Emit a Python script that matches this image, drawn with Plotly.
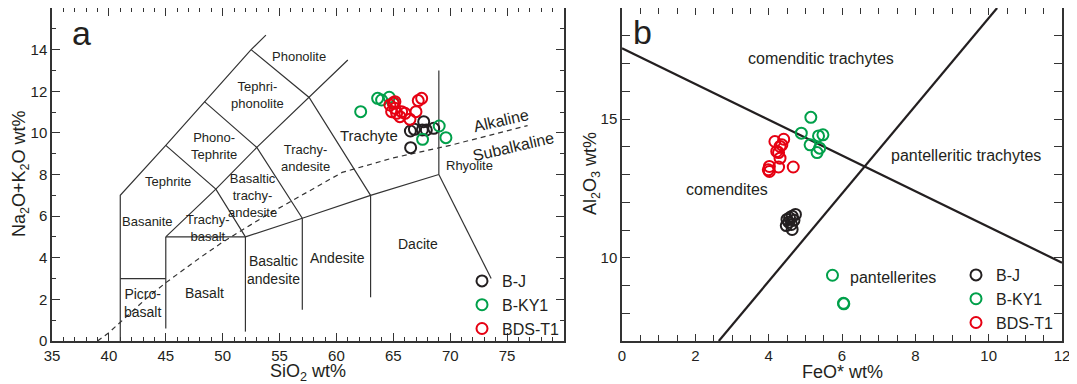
import plotly.graph_objects as go

# ---------------- Panel a (TAS) data ----------------
a_bj_sio2 = [66.50, 66.85, 67.67, 67.90, 68.55, 66.52, 67.55]
a_bj_alk = [10.09, 10.17, 10.54, 10.14, 10.22, 9.29, 10.14]
a_ky_sio2 = [62.13, 63.62, 63.97, 64.64, 65.00, 69.03, 69.62, 67.57]
a_ky_alk = [11.02, 11.66, 11.58, 11.71, 11.45, 10.33, 9.77, 9.69]
a_bds_sio2 = [65.00, 64.70, 65.14, 64.85, 65.29, 65.73, 66.02, 65.58, 66.46, 66.99, 67.19, 67.49, 65.14]
a_bds_alk = [11.42, 11.34, 11.18, 11.02, 10.94, 11.02, 10.94, 10.78, 10.65, 11.02, 11.55, 11.66, 11.50]

# ---------------- Panel b data ----------------
b_bj_feo = [4.50, 4.64, 4.73, 4.55, 4.69, 4.48, 4.62, 4.64, 4.57]
b_bj_al = [11.38, 11.50, 11.56, 11.28, 11.35, 11.16, 11.20, 11.02, 11.44]
b_ky_feo = [5.15, 4.89, 5.36, 5.48, 5.13, 5.39, 5.32, 5.74, 6.04, 6.05]
b_ky_al = [15.06, 14.49, 14.39, 14.43, 14.07, 13.95, 13.79, 9.37, 8.36, 8.34]
b_bds_feo = [4.17, 4.41, 4.31, 4.36, 4.22, 4.27, 4.31, 4.02, 3.99, 4.02, 4.27, 4.67]
b_bds_al = [14.19, 14.27, 14.01, 14.07, 13.83, 13.79, 13.59, 13.29, 13.17, 13.11, 13.27, 13.27]

series_names = ["B-J", "B-KY1", "BDS-T1"]
series_colors = ["#231f20", "#00a04a", "#e60012"]

# tick labels
a_x_ticks = [35, 40, 45, 50, 55, 60, 65, 70, 75]
a_y_ticks = [0, 2, 4, 6, 8, 10, 12, 14]
b_x_ticks = [0, 2, 4, 6, 8, 10, 12]
b_y_ticks = list(range(7, 20))
b_y_labels = ["" if v not in (10, 15) else str(v) for v in b_y_ticks]

# ---------------- TAS boundaries (SiO2, Na2O+K2O) ----------------
tas_lines = [
    ([41, 41, 45, 48.4, 52.5, 53.8], [0, 7, 9.4, 11.5, 14, 14.7]),
    ([41, 45], [3, 3]),
    ([45, 45], [0.6, 5]),
    ([45, 52, 57, 63, 69], [5, 5, 5.9, 7, 8]),
    ([52, 52], [0.45, 5]),
    ([57, 57], [1.5, 5.9]),
    ([63, 63], [2.1, 7]),
    ([69, 69], [8, 13]),
    ([69, 73.6], [8, 3.0]),
    ([45, 49.4, 53, 57.6, 61], [5, 7.3, 9.3, 11.7, 13.5]),
    ([45, 49.4, 52], [9.4, 7.3, 5]),
    ([48.4, 53, 57], [11.5, 9.3, 5.9]),
    ([52.5, 57.6, 63], [14, 11.7, 7]),
]
ib_sio2 = [39.0, 40, 43.2, 45, 48, 50, 53.7, 55, 60.5, 65, 70, 76.8]
ib_alk = [0, 0.4, 2, 2.8, 4, 4.75, 6, 6.4, 8.1, 8.8, 9.4, 10.35]

# ---------------- Panel b boundaries (FeO*, Al2O3) ----------------
b_line1_x = [0, 12]
b_line1_y = [17.55, 9.82]
b_line2_x = [2.64, 10.23]
b_line2_y = [7, 19]

FONT = "Arial, Liberation Sans, sans-serif"
TXT = "#231f20"
AX = "#333333"

# the page body has an 8px margin, so the figure is sized to fit the window
OFF = 8
W, H = 1077 - OFF, 384 - OFF
def px(X):
    return (X - OFF) / W
def py(Y):
    return 1 - (Y - OFF) / H

fig = go.Figure()

for xs, ys in tas_lines:
    fig.add_trace(go.Scatter(x=xs, y=ys, mode="lines", line=dict(color=AX, width=1.2),
                             showlegend=False, hoverinfo="skip", xaxis="x", yaxis="y"))
fig.add_trace(go.Scatter(x=ib_sio2, y=ib_alk, mode="lines", line=dict(color=AX, width=1.2, dash="5px,4px"),
                         showlegend=False, hoverinfo="skip", xaxis="x", yaxis="y"))
fig.add_trace(go.Scatter(x=b_line1_x, y=b_line1_y, mode="lines", line=dict(color="#231f20", width=2.2),
                         showlegend=False, hoverinfo="skip", xaxis="x2", yaxis="y2"))
fig.add_trace(go.Scatter(x=b_line2_x, y=b_line2_y, mode="lines", line=dict(color="#231f20", width=2.2),
                         showlegend=False, hoverinfo="skip", xaxis="x2", yaxis="y2"))

# empty helper traces so the mirrored tick axes are drawn
for xa, ya in [("x3", "y"), ("x", "y3"), ("x4", "y2"), ("x2", "y4")]:
    fig.add_trace(go.Scatter(x=[], y=[], xaxis=xa, yaxis=ya, showlegend=False, hoverinfo="skip"))

a_data = [(a_bj_sio2, a_bj_alk), (a_ky_sio2, a_ky_alk), (a_bds_sio2, a_bds_alk)]
b_data = [(b_bj_feo, b_bj_al), (b_ky_feo, b_ky_al), (b_bds_feo, b_bds_al)]
for (xs, ys), name, col in zip(a_data, series_names, series_colors):
    fig.add_trace(go.Scatter(x=xs, y=ys, mode="markers", name=name, legend="legend",
                             marker=dict(symbol="circle-open", size=11, color=col, line=dict(width=2, color=col)),
                             xaxis="x", yaxis="y"))
for (xs, ys), name, col in zip(b_data, series_names, series_colors):
    fig.add_trace(go.Scatter(x=xs, y=ys, mode="markers", name=name, legend="legend2",
                             marker=dict(symbol="circle-open", size=11, color=col, line=dict(width=2, color=col)),
                             xaxis="x2", yaxis="y2"))

ann = []
def lab(x, y, t, size=13, ref="", angle=0):
    ann.append(dict(x=x, y=y, text=t, xref="x" + ref, yref="y" + ref, showarrow=False,
                    font=dict(family=FONT, size=size, color=TXT), textangle=angle))

def title(X, Y, t, angle=0):
    ann.append(dict(x=px(X), y=py(Y), text=t, xref="paper", yref="paper", showarrow=False,
                    xanchor="center", yanchor="middle", textangle=angle,
                    font=dict(family=FONT, size=18, color=TXT)))

lab(56.7, 13.68, "Phonolite")
lab(53.07, 11.8, "Tephri-<br>phonolite")
lab(49.27, 9.35, "Phono-<br>Tephrite")
lab(45.17, 7.66, "Tephrite")
lab(43.41, 5.73, "Basanite")
lab(52.6, 6.97, "Basaltic<br>trachy-<br>andesite")
lab(48.67, 5.45, "Trachy-<br>basalt")
lab(57.26, 8.79, "Trachy-<br>andesite")
lab(62.85, 9.87, "Trachyte", size=15)
lab(71.65, 8.44, "Rhyolite")
lab(67.13, 4.68, "Dacite", size=14)
lab(60.11, 4.0, "Andesite", size=14)
lab(54.5, 3.39, "Basaltic<br>andesite", size=14)
lab(48.42, 2.29, "Basalt", size=14)
lab(42.99, 1.81, "Picro-<br>basalt", size=14)
lab(74.5, 10.6, "Alkaline", size=16, angle=-13)
lab(75.6, 9.35, "Subalkaline", size=16, angle=-13)
lab(37.6, 14.8, "a", size=34)

lab(5.43, 17.18, "comenditic trachytes", size=16, ref="2")
lab(9.39, 13.67, "pantelleritic trachytes", size=16, ref="2")
lab(2.87, 12.45, "comendites", size=16, ref="2")
lab(7.39, 9.28, "pantellerites", size=16, ref="2")
lab(0.57, 18.13, "b", size=34, ref="2")

title(308, 372, "SiO<sub>2</sub> wt%")
title(842, 372, "FeO* wt%")
title(21, 174, "Na<sub>2</sub>O+K<sub>2</sub>O wt%", angle=-90)
title(592, 174, "Al<sub>2</sub>O<sub>3</sub> wt%", angle=-90)

base = dict(showline=True, mirror=True, linecolor=AX, linewidth=1.5, ticks="inside",
            showgrid=False, zeroline=False, tickcolor=AX, automargin=False,
            tickfont=dict(family=FONT, size=15, color=TXT))
mirror_ax = dict(showline=False, ticks="inside", showgrid=False, zeroline=False, tickcolor=AX,
                 showticklabels=False, automargin=False)

XA = [px(52), px(564)]
XB = [px(622), px(1062)]
YD = [py(341), py(8)]

fig.update_layout(
    template="none",
    width=W, height=H, margin=dict(l=0, r=0, t=0, b=0, pad=0),
    paper_bgcolor="white", plot_bgcolor="white",
    font=dict(family=FONT, color=TXT),
    xaxis=dict(domain=XA, range=[35, 80], tickvals=a_x_ticks, ticklen=8,
               minor=dict(dtick=1, tick0=35, ticklen=4, ticks="inside", tickcolor=AX, showgrid=False),
               anchor="y", **base),
    yaxis=dict(domain=YD, range=[0, 16], tickvals=a_y_ticks, ticklen=8,
               minor=dict(dtick=1, tick0=0, ticklen=4, ticks="inside", tickcolor=AX, showgrid=False),
               anchor="x", **base),
    xaxis3=dict(overlaying="x", side="top", anchor="y", range=[35, 80], tickvals=a_x_ticks, ticklen=8,
                minor=dict(dtick=1, tick0=35, ticklen=4, ticks="inside", tickcolor=AX, showgrid=False),
                **mirror_ax),
    yaxis3=dict(overlaying="y", side="right", anchor="x", range=[0, 16], tickvals=a_y_ticks, ticklen=8,
                minor=dict(dtick=1, tick0=0, ticklen=4, ticks="inside", tickcolor=AX, showgrid=False),
                **mirror_ax),
    xaxis2=dict(domain=XB, range=[0, 12], tickvals=b_x_ticks, ticklen=7,
                minor=dict(dtick=0.5, tick0=0, ticklen=6, ticks="inside", tickcolor=AX, showgrid=False),
                anchor="y2", **base),
    yaxis2=dict(domain=YD, range=[7, 19], ticklen=8, tickvals=b_y_ticks, ticktext=b_y_labels,
                anchor="x2", **base),
    xaxis4=dict(overlaying="x2", side="top", anchor="y2", range=[0, 12], tickvals=b_x_ticks, ticklen=7,
                minor=dict(dtick=0.5, tick0=0, ticklen=6, ticks="inside", tickcolor=AX, showgrid=False),
                **mirror_ax),
    yaxis4=dict(overlaying="y2", side="right", anchor="x2", range=[7, 19], ticklen=8, tickvals=b_y_ticks,
                **mirror_ax),
    legend=dict(x=px(462), y=py(264), xanchor="left", yanchor="top", bgcolor="rgba(0,0,0,0)",
                font=dict(family=FONT, size=16, color=TXT), tracegroupgap=0, itemwidth=30,
                borderwidth=0),
    legend2=dict(x=px(956), y=py(258), xanchor="left", yanchor="top", bgcolor="rgba(0,0,0,0)",
                 font=dict(family=FONT, size=16, color=TXT), tracegroupgap=0, itemwidth=30,
                 borderwidth=0),
    showlegend=True,
    annotations=ann,
)

fig.write_html("out.html")
